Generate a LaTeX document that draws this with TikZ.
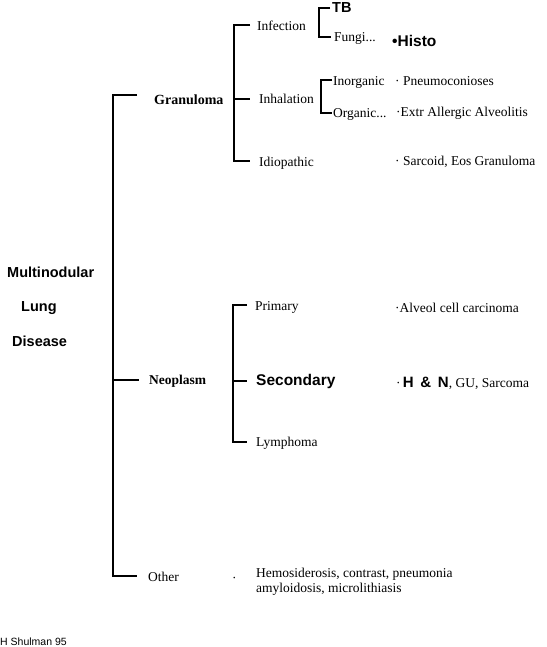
\documentclass[tikz,border=0pt]{standalone}
\usepackage{fontspec}
\setmainfont{Liberation Serif}
\setsansfont{Liberation Sans}
\usepackage{tikz}
\usetikzlibrary{positioning, calc}

\tikzset{
  lbl/.style={anchor=west, inner sep=0pt, text height=10pt, text depth=0pt,
    font=\fontsize{13.5}{15}\selectfont},
  sbold/.style={lbl, font=\fontsize{14.5}{16}\selectfont\sffamily\bfseries},
  brk/.style={line width=2pt}
}

\begin{document}
\begin{tikzpicture}[x=1pt, y=-1pt]
				\useasboundingbox (0,0) rectangle (546,647);
				
				\node[sbold] (multi) at (7,272) {Multinodular};
				\node[sbold] (lung) at (21,306.5) {Lung};
				\node[sbold] (dis) at (12,341.5) {Disease};
				
				\node[lbl, font=\fontsize{14}{16}\selectfont\bfseries] (gran) at (154,100) {Granuloma};
				\node[lbl, font=\fontsize{13.5}{15}\selectfont\bfseries] (neo) at (149,379.5) {Neoplasm};
				\node[lbl] (other) at (148,576) {Other};
				\coordinate (msp) at (113,0);
				\coordinate (gtick) at (137,95);
				
				\draw[brk] (gtick) -- (gtick -| msp) -- (other.west -| msp) -- ([xshift=-11pt]other.west);
				\draw[brk] (neo.west -| msp) -- ([xshift=-10pt]neo.west);
				
				\node[lbl] (infect) at (257,25.5) {Infection};
				\node[lbl] (inhal) at (259,99) {Inhalation};
				\node[lbl] (idio) at (259,161.5) {Idiopathic};
				\coordinate (gsp) at (234,0);
				
				\draw[brk] ([xshift=-7pt]infect.west) -- (infect.west -| gsp) -- (idio.west -| gsp) -- ([xshift=-9pt]idio.west);
				\draw[brk] (inhal.west -| gsp) -- ([xshift=-9pt]inhal.west);
				
				\node[sbold] (tb) at (332,8) {TB};
				\node[lbl] (fungi) at (334,37) {Fungi...};
				\coordinate (isp) at (319,0);
				\draw[brk] ([xshift=-2pt]tb.west) -- (tb.west -| isp) -- (fungi.west -| isp) -- ([xshift=-3pt]fungi.west);
				\node[sbold, font=\fontsize{15.5}{17}\selectfont\sffamily\bfseries] (histo) at (392,41.5) {•Histo};
				
				\node[lbl] (inorg) at (333,80.5) {Inorganic};
				\node[lbl] (org) at (333,113) {Organic...};
				\coordinate (hsp) at (321,0);
				\draw[brk] ([xshift=-1pt]inorg.west) -- (inorg.west -| hsp) -- (org.west -| hsp) -- ([xshift=-1pt]org.west);
				\node[lbl] (pneu) at (395,81) {· Pneumoconioses};
				\node[lbl] (eaa) at (396,112) {·Extr Allergic Alveolitis};
				\node[lbl] (sarc) at (395,161) {· Sarcoid, Eos Granuloma};
				
				\node[lbl] (prim) at (255,305) {Primary};
				\node[sbold, font=\fontsize{15.5}{17}\selectfont\sffamily\bfseries] (sec) at (256,380.5) {Secondary};
				\node[lbl] (lymph) at (256,441.5) {Lymphoma};
				\coordinate (nsp) at (233,0);
				\draw[brk] ([xshift=-8pt]prim.west) -- (prim.west -| nsp) -- (lymph.west -| nsp) -- ([xshift=-9pt]lymph.west);
				\draw[brk] (sec.west -| nsp) -- ([xshift=-9pt]sec.west);
				
				\node[lbl] (alv) at (395,307) {·Alveol cell carcinoma};
				\node[lbl] (hn) at (396,382) {·\,{\fontsize{15}{17}\selectfont\sffamily\bfseries H\,\ \&\ \,N}, GU, Sarcoma};
				
				\node[lbl] (dot) at (232,577) {·};
				\node[lbl] (hemo) at (256,572) {Hemosiderosis, contrast, pneumonia};
				\node[lbl] (amyl) at (256,587) {amyloidosis, microlithiasis};
				
				\node[anchor=base west, inner sep=0pt, font=\fontsize{10.5}{12}\selectfont\sffamily] (auth) at (0,645) {H Shulman 95};
			\end{tikzpicture}
\end{document}
